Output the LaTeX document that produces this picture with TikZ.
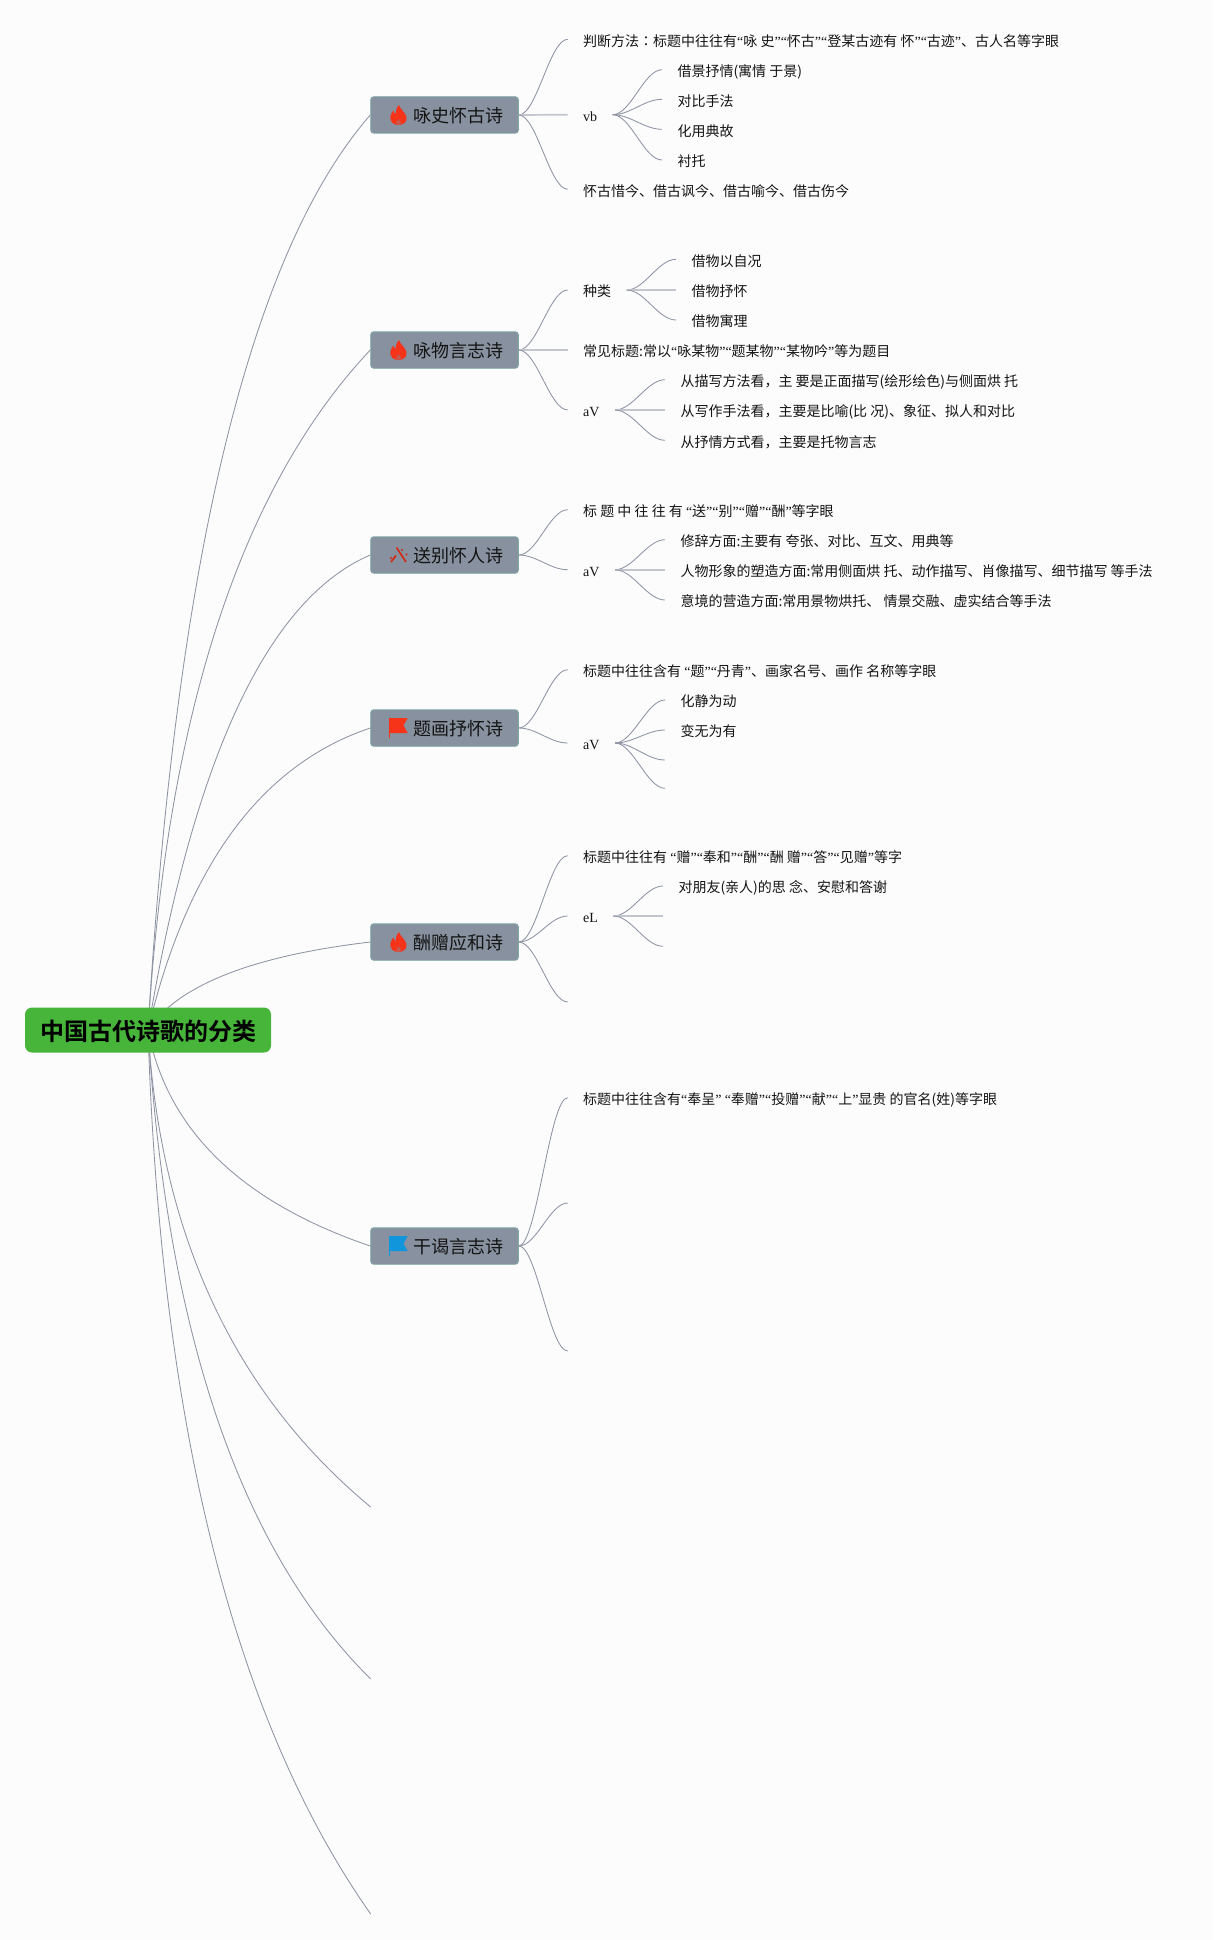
\documentclass[tikz,border=0pt]{standalone}
\usepackage{fontspec}
\usetikzlibrary{calc,backgrounds}
\setmainfont{Noto Sans CJK SC}
\newfontfamily\rootfont{Noto Sans CJK SC Bold}
\newfontfamily\tcfont{Noto Sans CJK TC}
\newfontfamily\quotefont{Liberation Serif}
\newfontfamily\latfont{Liberation Serif}
\newcommand{\ql}{{\quotefont “}}
\newcommand{\qr}{{\quotefont ”}}
\definecolor{pagebg}{HTML}{FCFCFD}
\definecolor{topicfill}{HTML}{87919F}
\definecolor{topicline}{HTML}{7FA9A6}
\definecolor{rootgreen}{HTML}{46B53A}
\definecolor{edgecol}{HTML}{8E94A3}
\definecolor{straightcol}{HTML}{C3C6CF}
\definecolor{hotred}{HTML}{F5341A}
\definecolor{flagblue}{HTML}{1296DB}
\tikzset{
  rootbox/.style={rectangle,rounded corners=7pt,fill=rootgreen,minimum width=246pt,minimum height=45pt,inner sep=0pt,text height=22pt,text depth=1.2pt,font=\rootfont\fontsize{24}{24}\selectfont,text=black},
  topic/.style={rectangle,rounded corners=3pt,fill=topicfill,draw=topicline,line width=.9pt,minimum width=147.6pt,minimum height=36.5pt,inner sep=0pt,text height=17pt,text depth=1.6pt,font=\fontsize{18}{18}\selectfont,text=black!92},
  leaf/.style={anchor=west,inner xsep=15.3pt,inner ysep=0pt,text height=15.4pt,text depth=1.6pt,font=\fontsize{14}{14}\selectfont,text=black!92},
  latin/.style={leaf,text height=14.6pt,font=\latfont\fontsize{14}{14}\selectfont},
  linkline/.style={draw=edgecol,line width=.85pt},
  flatline/.style={draw=straightcol,line width=1.7pt},
  flame/.pic={
    \fill[hotred] (9,0) .. controls (10,4) and (15,7) .. (16.5,12) .. controls (17.5,17) and (13,20) .. (8.5,20)
      .. controls (3.5,20) and (0,17) .. (.3,12) .. controls (.5,9) and (2.5,7) .. (3.5,5.5)
      .. controls (4,7.5) and (4.5,8.5) .. (5.5,9) .. controls (5.5,5.5) and (7,2) .. (9,0) -- cycle;
    \fill[hotred!60!topicfill] (8.5,14) .. controls (9,15.5) and (11,16) .. (11,18) .. controls (11,19) and (10,20) .. (8.5,20)
      .. controls (7,20) and (6,19) .. (6,18) .. controls (6,16.5) and (8,15.5) .. (8.5,14) -- cycle;
  },
  flagred/.pic={
    \fill[hotred] (0,0) -- (18.7,0) -- (14.5,7.5) -- (18.7,15) -- (0,15) -- cycle;
    \draw[hotred,line width=1pt] (.4,0) -- (.4,20);
  },
  flagb/.pic={
    \fill[flagblue] (0,0) -- (18.7,0) -- (14.5,7.5) -- (18.7,15) -- (0,15) -- cycle;
    \draw[flagblue,line width=1pt] (.4,0) -- (.4,20);
  },
  tools/.pic={
    \draw[hotred!85!black,line width=1.7pt] (6.5,.5) -- (16,15);
    \draw[hotred!85!black,line width=1.7pt] (1,15) -- (6,8.5);
    \fill[hotred!85!black] (12,3) circle (1.1) (16.5,7.5) circle (1.1) (1,11) circle (1.1);
  },
}
\newcommand{\rootedge}[3]{\draw[linkline] (root.center) .. controls ($(root.center)!0.6667!(#2,#3)$) and ($(#1)!0.6667!(#2,#3)$) .. (#1);}
\newcommand{\sedge}[2]{\draw[linkline] (#1) .. controls +(18,0) and +(-18,0) .. (#2);}
\newcommand{\ttl}[1]{\hspace*{27.6pt}#1}
\begin{document}
\begin{tikzpicture}[x=1pt,y=-1pt]
\useasboundingbox (0,0) rectangle (1213,1940);
\begin{scope}[on background layer]
\fill[pagebg] (0,0) rectangle (1213,1940);
\end{scope}
% root and main topics
\node[rootbox] (root) at (148,1030) {中国古代诗歌的分类};
\node[topic] (n1) at (444.5,115) {\ttl{咏史怀古诗}};
\node[topic] (n2) at (444.5,350) {\ttl{咏物言志诗}};
\node[topic] (n3) at (444.5,555) {\ttl{送别怀人诗}};
\node[topic] (n4) at (444.5,728) {\ttl{题画抒怀诗}};
\node[topic] (n5) at (444.5,942) {\ttl{酬赠应和诗}};
\node[topic] (n6) at (444.5,1246) {\ttl{干谒言志诗}};
\pic at (390,105) {flame};
\pic at (390,340) {flame};
\pic at (390,547) {tools};
\pic at (389,718) {flagred};
\pic at (390,932) {flame};
\pic at (389,1236) {flagb};
\coordinate (e1) at (370.7,1507);
\coordinate (e2) at (370.7,1679);
\coordinate (e3) at (370.7,1914);
% topic 1
\node[leaf] (a1) at (567.7,39.3) {判断方法{\tcfont ：}标题中往往有\ql 咏 史\qr\ql 怀古\qr\ql 登某古迹有 怀\qr\ql 古迹\qr 、古人名等字眼};
\node[latin] (a2) at (567.7,114.7) {vb};
\node[leaf] (a3) at (567.7,189.3) {怀古惜今、借古讽今、借古喻今、借古伤今};
\node[leaf] (a21) at (662,69.7) {借景抒情(寓情 于景)};
\node[leaf] (a22) at (662,99.3) {对比手法};
\node[leaf] (a23) at (662,129.3) {化用典故};
\node[leaf] (a24) at (662,160) {衬托};
% topic 2
\node[leaf] (b1) at (567.7,290) {种类};
\node[leaf] (b2) at (567.7,350) {常见标题:常以\ql 咏某物\qr\ql 题某物\qr\ql 某物吟\qr 等为题目};
\node[latin] (b3) at (567.7,410) {aV};
\node[leaf] (b11) at (676,259.3) {借物以自况};
\node[leaf] (b12) at (676,290) {借物抒怀};
\node[leaf] (b13) at (676,320) {借物寓理};
\node[leaf] (b31) at (665,379.7) {从描写方法看，主 要是正面描写(绘形绘色)与侧面烘 托};
\node[leaf] (b32) at (665,410) {从写作手法看，主要是比喻(比 况)、象征、拟人和对比};
\node[leaf] (b33) at (665,440.3) {从抒情方式看，主要是托物言志};
% topic 3
\node[leaf] (c1) at (567.7,509.7) {标 题 中 往 往 有 \ql 送\qr\ql 别\qr\ql 赠\qr\ql 酬\qr 等字眼};
\node[latin] (c2) at (567.7,569.7) {aV};
\node[leaf] (c21) at (665,539.7) {修辞方面:主要有 夸张、对比、互文、用典等};
\node[leaf] (c22) at (665,569.7) {人物形象的塑造方面:常用侧面烘 托、动作描写、肖像描写、细节描写 等手法};
\node[leaf] (c23) at (665,600) {意境的营造方面:常用景物烘托、 情景交融、虚实结合等手法};
% topic 4
\node[leaf] (d1) at (567.7,669.7) {标题中往往含有 \ql 题\qr\ql 丹青\qr 、画家名号、画作 名称等字眼};
\node[latin] (d2) at (567.7,743) {aV};
\node[leaf] (d21) at (665,700) {化静为动};
\node[leaf] (d22) at (665,730) {变无为有};
\coordinate (d23) at (665,760);
\coordinate (d24) at (665,788.3);
% topic 5
\node[leaf] (f1) at (567.7,855.7) {标题中往往有 \ql 赠\qr\ql 奉和\qr\ql 酬\qr\ql 酬 赠\qr\ql 答\qr\ql 见赠\qr 等字};
\node[latin] (f2) at (567.7,916) {eL};
\coordinate (f3) at (567.7,1002);
\node[leaf] (f21) at (663,886) {对朋友(亲人)的思 念、安慰和答谢};
\coordinate (f22) at (663,916);
\coordinate (f23) at (663,946.3);
% topic 6
\node[leaf] (g1) at (567.7,1097.7) {标题中往往含有\ql 奉呈\qr\ \ql 奉赠\qr\ql 投赠\qr\ql 献\qr\ql 上\qr 显贵 的官名(姓)等字眼};
\coordinate (g2) at (567.7,1203);
\coordinate (g3) at (567.7,1351);
% connectors
\begin{scope}[on background layer]
\rootedge{n1.west}{190.6}{321}
\rootedge{n2.west}{176.6}{556}
\rootedge{n3.west}{216.6}{621}
\rootedge{n4.west}{206.6}{783}
\rootedge{n5.west}{192.6}{963}
\rootedge{n6.west}{176.6}{1180}
\rootedge{e1}{166.6}{1338}
\rootedge{e2}{176.6}{1487}
\rootedge{e3}{166.6}{1624}
\end{scope}
\sedge{n1.east}{a1.west}
\draw[flatline] (n1.east) -- (a2.west);
\sedge{n1.east}{a3.west}
\sedge{a2.east}{a21.west}
\sedge{a2.east}{a22.west}
\sedge{a2.east}{a23.west}
\sedge{a2.east}{a24.west}
\sedge{n2.east}{b1.west}
\draw[flatline] (n2.east) -- (b2.west);
\sedge{n2.east}{b3.west}
\sedge{b1.east}{b11.west}
\draw[flatline] (b1.east) -- (b12.west);
\sedge{b1.east}{b13.west}
\sedge{b3.east}{b31.west}
\draw[flatline] (b3.east) -- (b32.west);
\sedge{b3.east}{b33.west}
\sedge{n3.east}{c1.west}
\sedge{n3.east}{c2.west}
\sedge{c2.east}{c21.west}
\draw[flatline] (c2.east) -- (c22.west);
\sedge{c2.east}{c23.west}
\sedge{n4.east}{d1.west}
\sedge{n4.east}{d2.west}
\sedge{d2.east}{d21.west}
\sedge{d2.east}{d22.west}
\sedge{d2.east}{d23}
\sedge{d2.east}{d24}
\sedge{n5.east}{f1.west}
\sedge{n5.east}{f2.west}
\sedge{n5.east}{f3}
\sedge{f2.east}{f21.west}
\draw[flatline] (f2.east) -- (f22);
\sedge{f2.east}{f23}
\sedge{n6.east}{g1.west}
\sedge{n6.east}{g2}
\sedge{n6.east}{g3}
\end{tikzpicture}
\end{document}
